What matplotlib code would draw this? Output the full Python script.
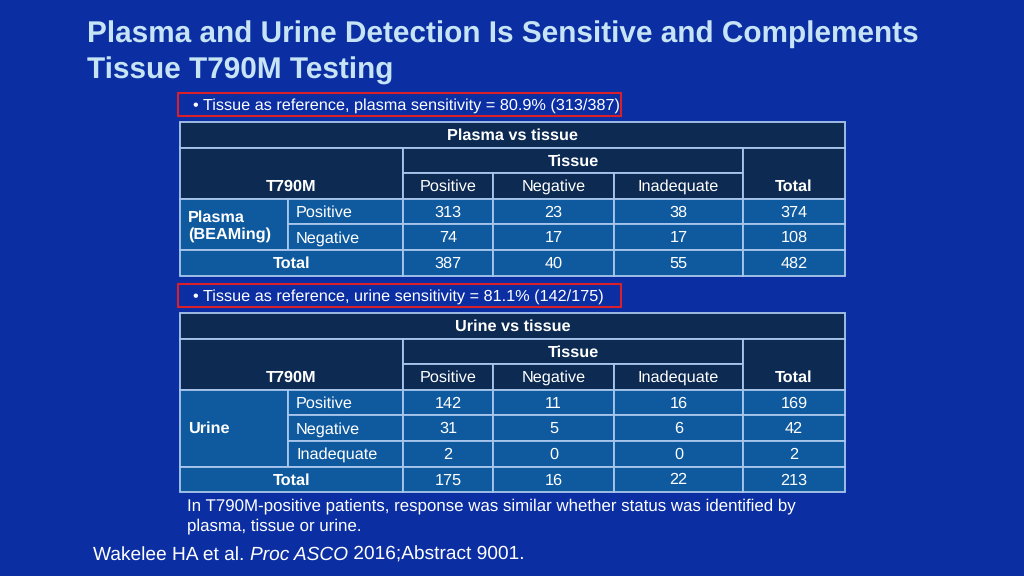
import matplotlib.pyplot as plt
from matplotlib.patches import Rectangle

plt.rcParams['font.family'] = ['Liberation Sans', 'DejaVu Sans']
plt.rcParams['text.hinting'] = 'no_hinting'

# slide text
title_lines = ['Plasma and Urine Detection Is Sensitive and Complements',
               'Tissue T790M Testing']
footnote = 'In T790M-positive patients, response was similar whether status was identified by\nplasma, tissue or urine.'
cite_parts = [('Wakelee HA et al. ', 'normal'), ('Proc ASCO', 'italic'),
              (' 2016;Abstract 9001.', 'normal')]

# table data
tissue_cols = ['Positive', 'Negative', 'Inadequate']

plasma_note = '\u2022 Tissue as reference, plasma sensitivity = 80.9% (313/387)'
plasma_rows = ['Positive', 'Negative']
plasma_counts = [[313, 23, 38], [74, 17, 17]]
plasma_row_totals = [374, 108]
plasma_col_totals = [387, 40, 55]
plasma_total = 482

urine_note = '\u2022 Tissue as reference, urine sensitivity = 81.1% (142/175)'
urine_rows = ['Positive', 'Negative', 'Inadequate']
urine_counts = [[142, 11, 16], [31, 5, 6], [2, 0, 0]]
urine_row_totals = [169, 42, 2]
urine_col_totals = [175, 16, 22]
urine_total = 213

# colours / layout
bg = '#0b2fa2'
head_c = '#0c2a52'
body_c = '#0f5a9f'
line_c = '#a9c7ec'
red_c = '#d8202c'
col_x = [180, 288, 403, 493, 614, 743, 845]
row_h = 25.6
fs = 11.7

fig = plt.figure(figsize=(10.24, 5.76), dpi=100, facecolor=bg)
ax = fig.add_axes([0, 0, 1, 1])
ax.set_xlim(0, 1024)
ax.set_ylim(576, 0)
ax.axis('off')


def label(x, y, text, bold=False, align='center'):
    ax.text(x, y, text, color='white', fontsize=fs,
            fontweight='bold' if bold else 'normal', ha=align,
            va='center_baseline', linespacing=1.15)


def cell(x0, x1, y0, y1, fc, text=None, bold=False, align='center'):
    ax.add_patch(Rectangle((x0, y0), x1 - x0, y1 - y0, facecolor=fc,
                           edgecolor=line_c, linewidth=1.3))
    if text is not None:
        tx = (x0 + x1) / 2 if align == 'center' else x0 + 8
        label(tx, (y0 + y1) / 2 - 0.8, text, bold, align)


def draw_table(top, note, group, rows, counts, row_tot, col_tot, total):
    # red note box above table
    ax.add_patch(Rectangle((178, top - 29), 443, 23, facecolor='none',
                           edgecolor=red_c, linewidth=1.5))
    ax.text(193, top - 18, note, color='white', fontsize=fs, va='center_baseline')
    y = [top + i * row_h for i in range(len(rows) + 5)]
    cx = col_x
    cell(cx[0], cx[6], y[0], y[1], head_c, group + ' vs tissue', bold=True)
    cell(cx[0], cx[2], y[1], y[3], head_c)
    label((cx[0] + cx[2]) / 2, y[2] + row_h / 2 - 0.8, 'T790M', bold=True)
    cell(cx[2], cx[5], y[1], y[2], head_c, 'Tissue', bold=True)
    for j, name in enumerate(tissue_cols):
        cell(cx[2 + j], cx[3 + j], y[2], y[3], head_c, name)
    cell(cx[5], cx[6], y[1], y[3], head_c)
    label((cx[5] + cx[6]) / 2, y[2] + row_h / 2 - 0.8, 'Total', bold=True)
    n = len(rows)
    grp = 'Plasma\n(BEAMing)' if group == 'Plasma' else group
    cell(cx[0], cx[1], y[3], y[3 + n], body_c, grp, bold=True, align='left')
    for i, r in enumerate(rows):
        cell(cx[1], cx[2], y[3 + i], y[4 + i], body_c, r, align='left')
        for j, v in enumerate(counts[i]):
            cell(cx[2 + j], cx[3 + j], y[3 + i], y[4 + i], body_c, str(v))
        cell(cx[5], cx[6], y[3 + i], y[4 + i], body_c, str(row_tot[i]))
    cell(cx[0], cx[2], y[3 + n], y[4 + n], body_c, 'Total', bold=True)
    for j, v in enumerate(col_tot):
        cell(cx[2 + j], cx[3 + j], y[3 + n], y[4 + n], body_c, str(v))
    cell(cx[5], cx[6], y[3 + n], y[4 + n], body_c, str(total))


for k, line in enumerate(title_lines):
    ax.text(87, 31 + k * 37, line, color='#c6e4f5', fontsize=21.4,
            fontweight='bold', va='center_baseline')

draw_table(122, plasma_note, 'Plasma', plasma_rows, plasma_counts,
           plasma_row_totals, plasma_col_totals, plasma_total)
draw_table(313, urine_note, 'Urine', urine_rows, urine_counts,
           urine_row_totals, urine_col_totals, urine_total)

ax.text(187, 516, footnote, color='white', fontsize=12.2, va='center',
        linespacing=1.3)

# citation with italic journal name
r = fig.canvas.get_renderer()
x = 93
for txt, style in cite_parts:
    t = ax.text(x, 553, txt, color='white', fontsize=13.8, style=style,
                va='center_baseline')
    bb = t.get_window_extent(renderer=r)
    x += bb.width

fig.savefig('out.png', dpi=100, facecolor=bg)
